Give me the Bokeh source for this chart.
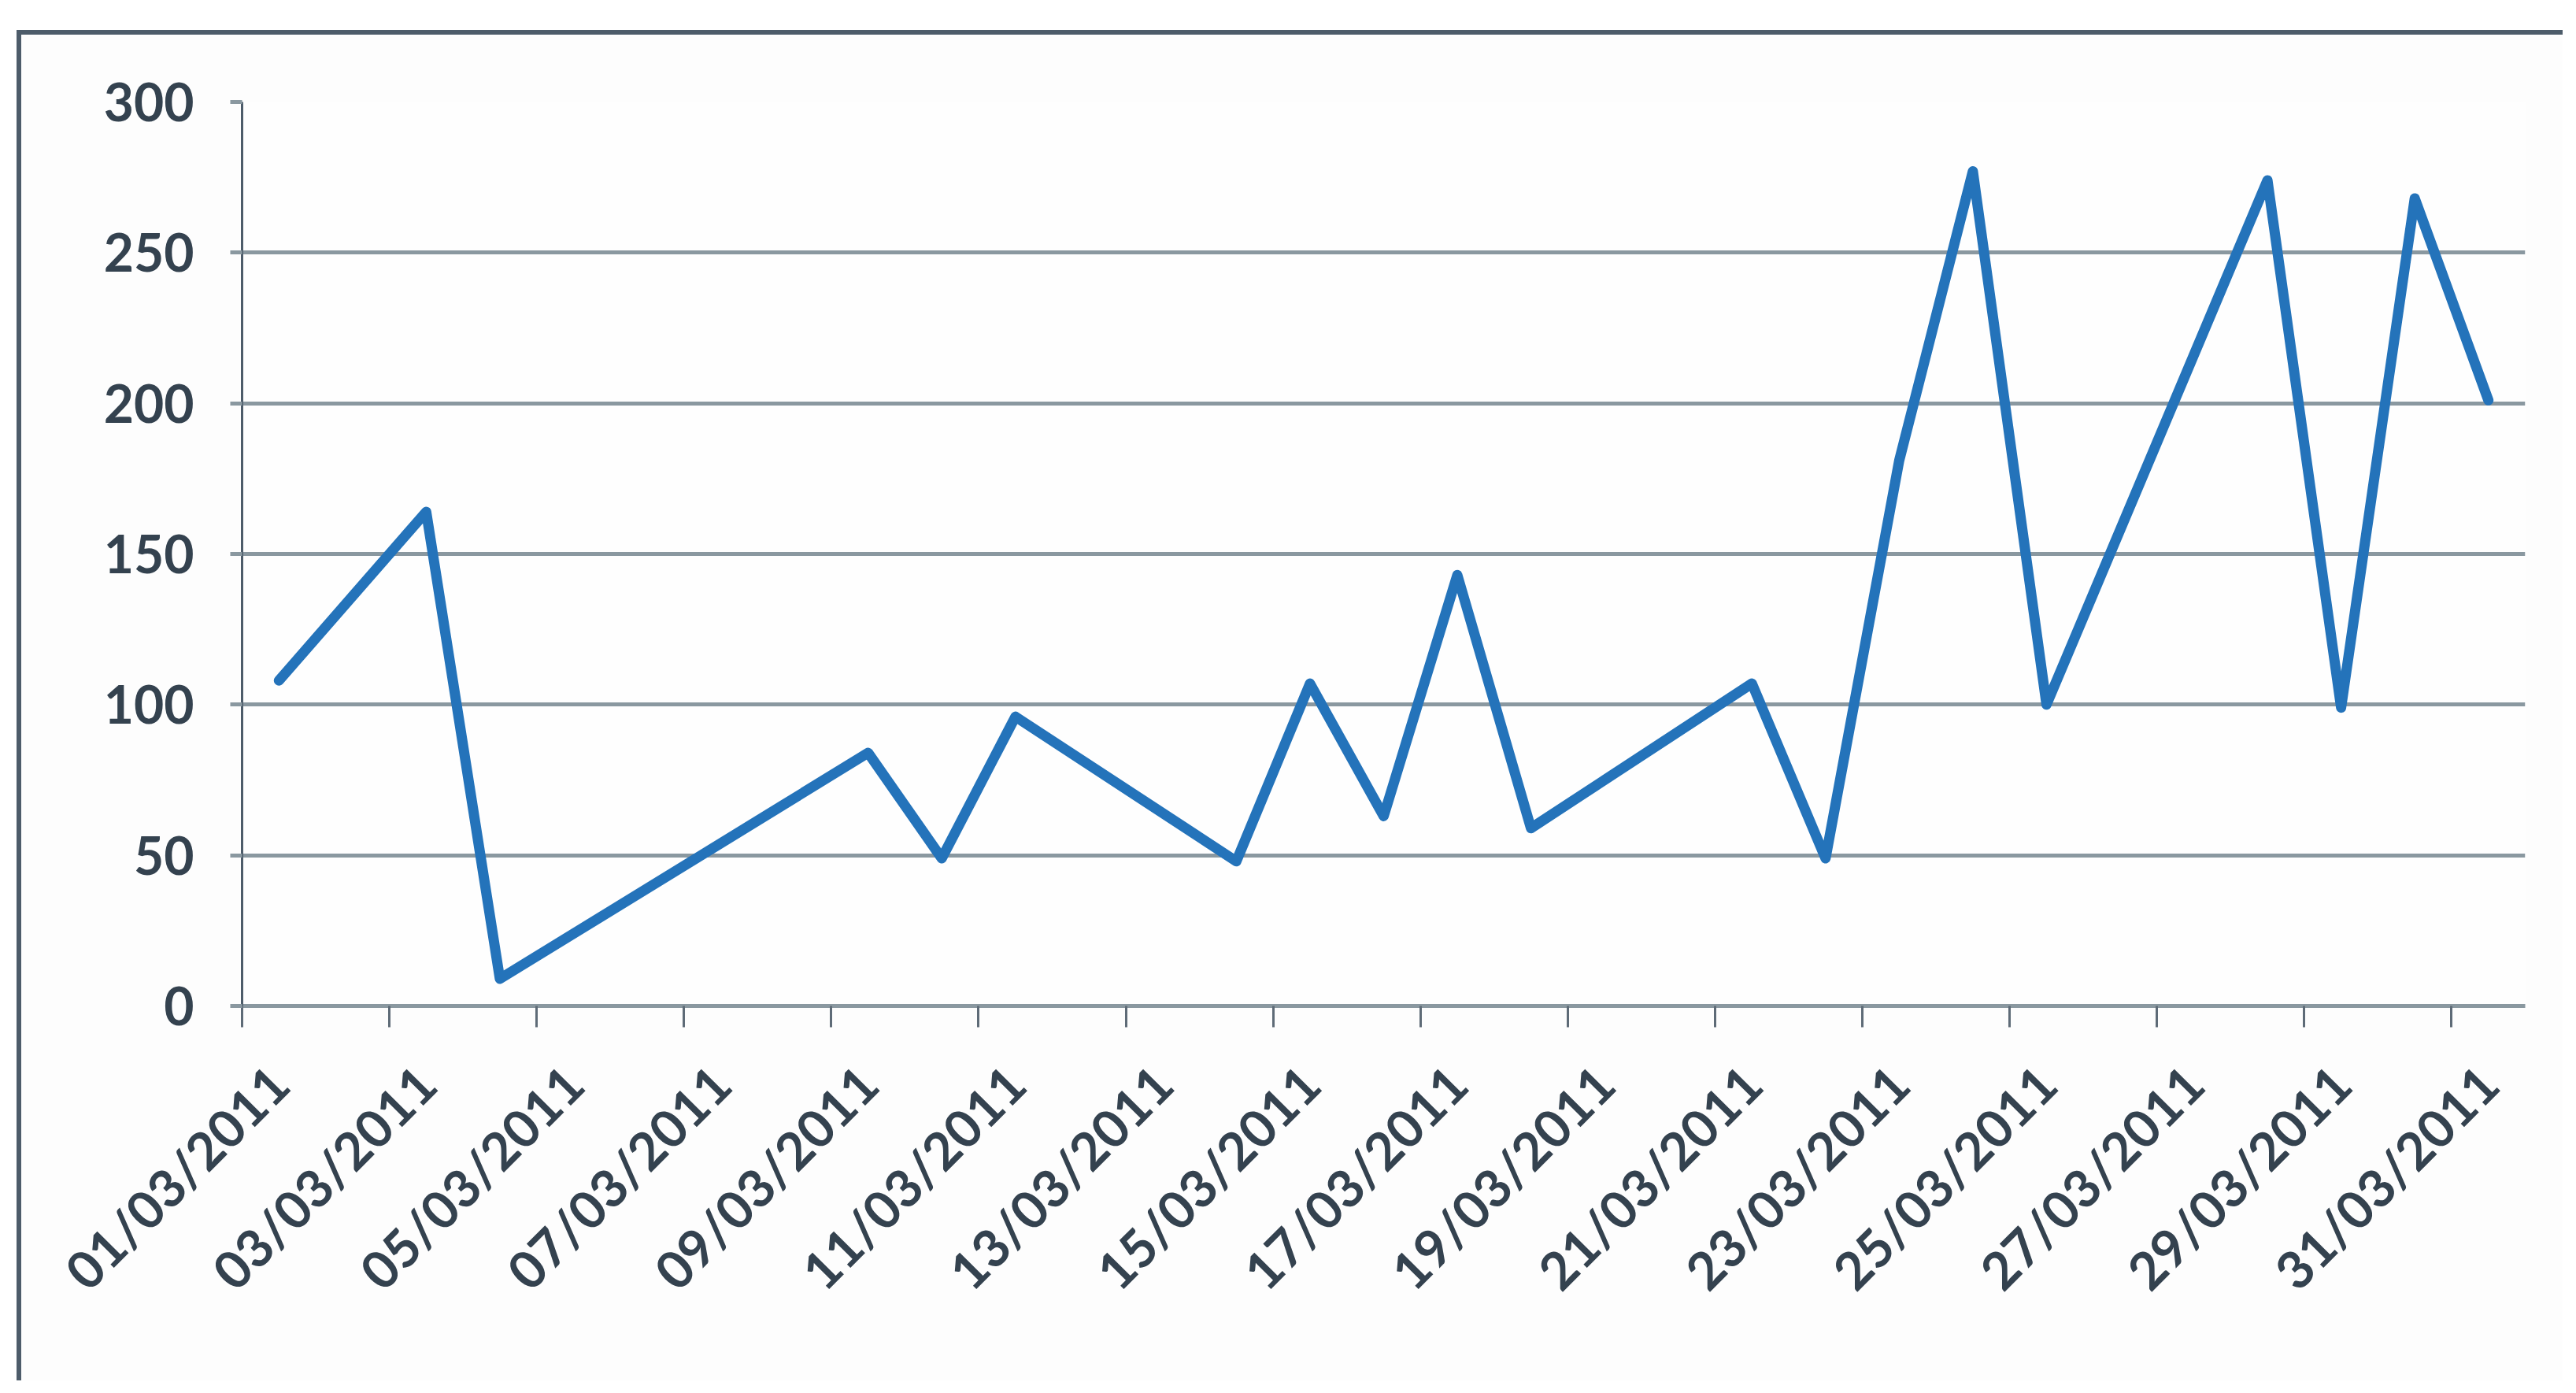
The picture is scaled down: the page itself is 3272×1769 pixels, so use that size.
import math
from bokeh.plotting import figure
from bokeh.models import Range1d, FixedTicker
from bokeh.embed import file_html
from bokeh.resources import INLINE

# ---- data ----
dates = ["01/03/2011", "03/03/2011", "04/03/2011", "09/03/2011", "10/03/2011",
         "11/03/2011", "14/03/2011", "15/03/2011", "16/03/2011", "17/03/2011",
         "18/03/2011", "21/03/2011", "22/03/2011", "23/03/2011", "24/03/2011",
         "25/03/2011", "28/03/2011", "29/03/2011", "30/03/2011", "31/03/2011"]
values = [108, 164, 9, 84, 49,
          96, 48, 107, 63, 143,
          59, 107, 49, 181, 277,
          100, 274, 99, 268, 201]
tick_labels = ["01/03/2011", "03/03/2011", "05/03/2011", "07/03/2011", "09/03/2011",
               "11/03/2011", "13/03/2011", "15/03/2011", "17/03/2011", "19/03/2011",
               "21/03/2011", "23/03/2011", "25/03/2011", "27/03/2011", "29/03/2011",
               "31/03/2011"]
y_ticks = [0, 50, 100, 150, 200, 250, 300]

x = [int(d[:2]) for d in dates]
label_pos = [int(t[:2]) for t in tick_labels]
slot_edges = [p - 0.5 for p in label_pos]

FONT = "Lato"
TXT = "#34424f"
GRID = "#8a98a0"

p = figure(width=3234, height=1715, output_backend="svg", toolbar_location=None,
           x_range=Range1d(0.5, 31.5), y_range=Range1d(0, 300),
           min_border_left=280, min_border_right=54, min_border_top=85,
           min_border_bottom=482)
p.styles = {"margin-left": "21px", "margin-top": "38px",
            "border-left": "6px solid #4d5c6a", "border-top": "6px solid #4d5c6a"}
p.background_fill_color = "#fefefe"
p.border_fill_color = "#fdfdfd"
p.outline_line_color = None

p.line(x, values, line_color="#2473ba", line_width=13, line_join="round",
       line_cap="round")

# y axis
p.yaxis.ticker = FixedTicker(ticks=y_ticks)
p.yaxis.axis_line_color = "#4d5c6a"
p.yaxis.axis_line_width = 3
p.yaxis.major_tick_line_color = GRID
p.yaxis.major_tick_line_width = 5
p.yaxis.major_tick_out = 15
p.yaxis.major_tick_in = 0
p.yaxis.minor_tick_line_color = None
p.yaxis.major_label_standoff = 46
p.yaxis.major_label_text_font = FONT
p.yaxis.major_label_text_font_style = "bold"
p.yaxis.major_label_text_font_size = "66px"
p.yaxis.major_label_text_color = TXT

# x axis
p.xaxis.ticker = FixedTicker(ticks=label_pos, minor_ticks=slot_edges)
p.xaxis.major_label_overrides = {lp: t for lp, t in zip(label_pos, tick_labels)}
p.xaxis.major_label_orientation = math.pi / 4
p.xaxis.axis_line_color = GRID
p.xaxis.axis_line_width = 5
p.xaxis.major_tick_line_color = None
p.xaxis.major_tick_out = 0
p.xaxis.major_tick_in = 0
p.xaxis.minor_tick_line_color = "#5e6b77"
p.xaxis.minor_tick_line_width = 3
p.xaxis.minor_tick_out = 27
p.xaxis.minor_tick_in = 0
p.xaxis.major_label_standoff = 60
p.xaxis.major_label_text_font = FONT
p.xaxis.major_label_text_font_style = "bold"
p.xaxis.major_label_text_font_size = "66px"
p.xaxis.major_label_text_color = TXT

p.xgrid.grid_line_color = None
p.ygrid.grid_line_color = GRID
p.ygrid.grid_line_width = 5

open("out.html", "w").write(file_html(p, INLINE))
